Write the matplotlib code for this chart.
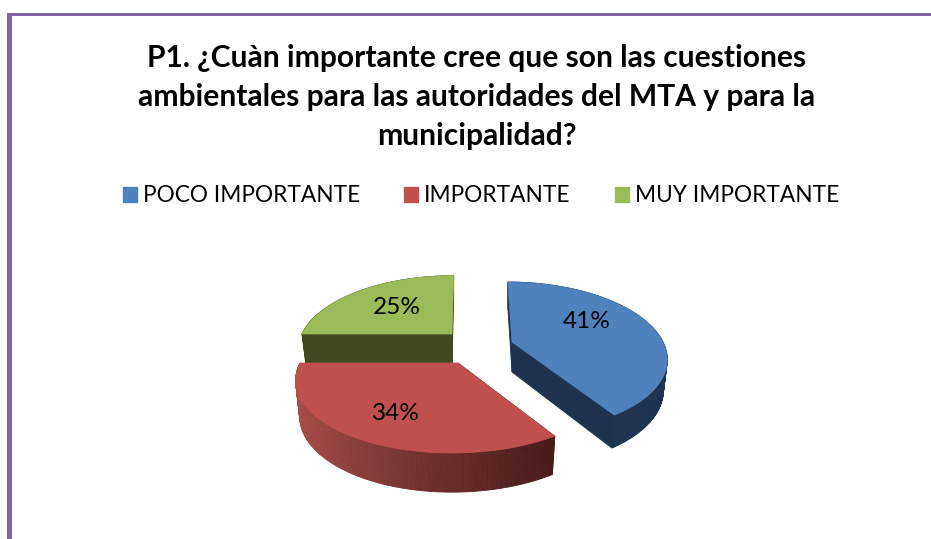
import numpy as np
import matplotlib
matplotlib.use("Agg")
import matplotlib.pyplot as plt
from matplotlib.patches import Polygon, Patch, Rectangle

title = ("P1. ¿Cuàn importante cree que son las cuestiones\n"
         "ambientales para las autoridades del MTA y para la\n"
         "municipalidad?")
categories = ["POCO IMPORTANTE", "IMPORTANTE", "MUY IMPORTANTE"]
values = [41, 34, 25]
top_colors = ["#4F81BD", "#C0504D", "#9BBB59"]
wall_colors = ["#1E334F", "#4F1F1D", "#3F4A20"]

# projection of each exploded slice: centre x, centre y, half-width, half-height, shear, depth
proj = [(512, 342, 151, 72, -5, 30),
        (458, 363, 158, 72, 5, 35),
        (452, 334, 150, 70, 2, 29)]
PERSP = 0.2

plt.rcParams['font.family'] = ['Lato', 'DejaVu Sans']
fig = plt.figure(figsize=(9.31, 5.39), dpi=100, facecolor="white")
ax = fig.add_axes([0, 0, 1, 1])
ax.set_xlim(0, 931)
ax.set_ylim(539, 0)
ax.axis("off")

ax.add_patch(Rectangle((7, 13), 5, 526, color="#8064A2", lw=0))
ax.add_patch(Rectangle((7, 13), 924, 3.2, color="#8064A2", lw=0))


def project(th, r, p):
    cx, cy, A, B, s, d = p
    u, v = r * np.sin(th), r * np.cos(th)
    w = 1 + PERSP * v
    return cx + (A * u + s * v) / w, cy - B * v / w, w


def lower(x, y, w, p):
    cx, d = p[0], p[5]
    return cx + (x - cx) * 0.975, y + d / np.sqrt(w)


fractions = np.cumsum([0] + values) / sum(values) * 2 * np.pi
for i in [2, 0, 1]:
    p = proj[i]
    t0, t1 = fractions[i], fractions[i + 1]
    th = np.linspace(t0, t1, 160)
    x, y, w = project(th, 1.0, p)
    ox = np.r_[p[0], x, p[0]]
    oy = np.r_[p[1], y, p[1]]
    ow = np.r_[1.0, w, 1.0]
    bx, by = lower(ox, oy, ow, p)
    for j in range(len(ox) - 1):
        col = wall_colors[i]
        if i == 1 and 1 <= j < len(x):
            f = (ox[j] - 297) / (555 - 297)
            c0, c1 = np.array([0.66, 0.30, 0.28]), np.array([0.28, 0.11, 0.10])
            col = tuple(c0 + (c1 - c0) * np.clip(f, 0, 1) ** 0.8)
        ax.add_patch(Polygon([(ox[j], oy[j]), (ox[j + 1], oy[j + 1]),
                              (bx[j + 1], by[j + 1]), (bx[j], by[j])],
                             closed=True, fc=col, ec=col, lw=0.6, zorder=2))
    ax.add_patch(Polygon(np.c_[ox, oy], closed=True, fc=top_colors[i], ec=top_colors[i],
                         lw=0.5, zorder=3))

label_pos = [(587, 321), (396, 413), (397, 307)]
for v, (lx, ly) in zip(values, label_pos):
    ax.text(lx, ly, f"{v}%", ha="center", va="center", fontsize=17.6, color="black", zorder=5)

ax.text(476.5, 97, title, ha="center", va="center", fontsize=21.6, fontweight="bold",
        color="black", linespacing=1.5)

handles = [Patch(fc=c, ec=c) for c in top_colors]
ax.legend(handles, categories, ncols=3, loc="center", bbox_to_anchor=(481 / 931, 1 - 196 / 539),
          frameon=False, fontsize=16.3, handlelength=0.62, handleheight=0.62,
          handletextpad=0.27, columnspacing=1.95)

fig.savefig("out.png", dpi=100)
